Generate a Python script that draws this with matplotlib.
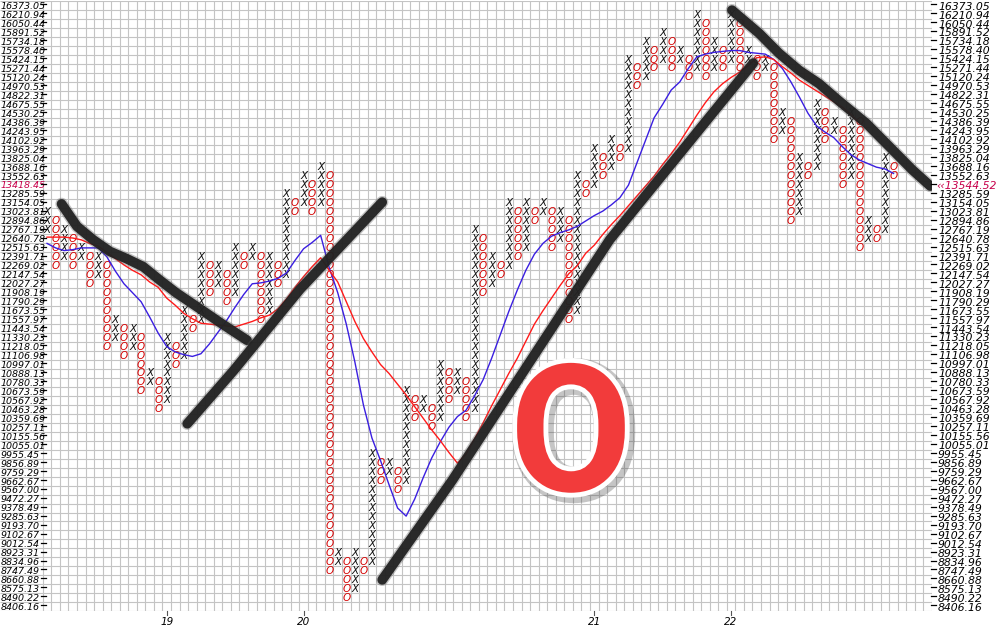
import numpy as np
import matplotlib
matplotlib.use("Agg")
import matplotlib.pyplot as plt
import matplotlib.patheffects as pe

# price level of each box row, bottom to top
box_labels = ["8406.16", "8490.22", "8575.13", "8660.88", "8747.49", "8834.96", "8923.31", "9012.54",
              "9102.67", "9193.70", "9285.63", "9378.49", "9472.27", "9567.00", "9662.67", "9759.29",
              "9856.89", "9955.45", "10055.01", "10155.56", "10257.11", "10359.69", "10463.28", "10567.92",
              "10673.59", "10780.33", "10888.13", "10997.01", "11106.98", "11218.05", "11330.23", "11443.54",
              "11557.97", "11673.55", "11790.29", "11908.19", "12027.27", "12147.54", "12269.02", "12391.71",
              "12515.63", "12640.78", "12767.19", "12894.86", "13023.81", "13154.05", "13285.59", "13418.45",
              "13552.63", "13688.16", "13825.04", "13963.29", "14102.92", "14243.95", "14386.39", "14530.25",
              "14675.55", "14822.31", "14970.53", "15120.24", "15271.44", "15424.15", "15578.40", "15734.18",
              "15891.52", "16050.44", "16210.94", "16373.05"]
last_price = "13544.52"
last_box = 47

# point & figure columns (box index of lowest / highest mark), X and O alternate
first_col = 5
col_low = [42, 38, 39, 38, 39, 36, 37, 29, 30, 28,
           29, 24, 25, 22, 23, 27, 28, 31, 32, 35,
           36, 34, 35, 38, 39, 32, 33, 36, 37, 44,
           45, 44, 45, 4, 5, 1, 2, 4, 5, 14,
           15, 13, 14, 21, 22, 20, 21, 23, 24, 21,
           22, 35, 36, 37, 38, 39, 40, 43, 44, 40,
           41, 32, 33, 46, 47, 48, 49, 50, 51, 58,
           59, 60, 61, 60, 61, 59, 60, 59, 60, 60,
           61, 60, 61, 59, 60, 52, 53, 43, 44, 48,
           49, 52, 53, 47, 48, 40, 41, 41, 42, 48]
col_high = [44, 43, 42, 41, 40, 39, 39, 38, 32, 31,
            31, 30, 26, 25, 30, 29, 33, 32, 39, 38,
            38, 37, 40, 39, 40, 39, 39, 38, 46, 45,
            48, 47, 49, 48, 6, 5, 6, 5, 17, 16,
            16, 15, 24, 23, 23, 22, 27, 26, 26, 25,
            42, 41, 39, 38, 45, 44, 45, 44, 45, 44,
            44, 43, 48, 47, 51, 50, 52, 51, 61, 60,
            63, 62, 64, 63, 62, 61, 66, 65, 63, 62,
            66, 65, 62, 61, 61, 60, 55, 54, 50, 49,
            56, 55, 54, 53, 55, 54, 43, 42, 50, 49]

# moving averages, one value per column (in box rows)
blue_start = 5
blue_ma = [40.5, 40.0, 39.7, 39.8, 40.0, 40.0, 40.0, 39.0, 37.4, 36.0,
           35.0, 34.0, 32.3, 30.5, 29.0, 28.4, 28.1, 27.9, 28.2, 29.3,
           30.6, 31.9, 33.4, 34.8, 36.0, 36.1, 36.3, 36.6, 37.2, 38.6,
           39.9, 40.6, 41.4, 37.8, 35.0, 31.5, 27.3, 22.5, 18.8, 16.3,
           13.6, 11.0, 10.1, 12.0, 14.4, 16.6, 18.4, 20.0, 21.2, 21.9,
           23.5, 25.3, 27.7, 30.3, 32.9, 35.3, 37.5, 39.3, 40.5, 41.3,
           41.7, 42.0, 42.4, 43.0, 43.6, 44.1, 44.8, 45.6, 47.0, 49.5,
           52.0, 54.5, 56.0, 57.6, 58.5, 60.0, 61.3, 61.6, 61.8, 61.9,
           62.0, 62.0, 61.8, 61.7, 61.6, 61.0, 60.0, 58.5, 56.8, 55.0,
           53.6, 52.9, 52.3, 51.3, 50.4, 49.8, 49.4, 49.0, 48.8, 48.3]
red_start = 5
red_ma = [41.2, 41.2, 41.2, 41.1, 40.9, 40.5, 40.2, 39.5, 38.8, 38.1,
          37.5, 37.0, 36.2, 35.6, 34.4, 33.6, 32.7, 32.1, 31.6, 31.5,
          31.4, 31.3, 31.2, 31.5, 31.8, 32.2, 32.5, 33.2, 34.3, 35.6,
          36.8, 37.9, 38.9, 37.5, 36.2, 34.0, 31.8, 29.9, 28.4, 27.0,
          26.0, 24.8, 23.6, 22.3, 21.0, 19.7, 18.5, 17.2, 16.0, 17.0,
          18.7, 20.5, 22.4, 24.2, 26.0, 27.7, 29.6, 31.5, 33.0, 34.4,
          35.8, 37.1, 38.0, 39.4, 40.3, 41.5, 42.6, 43.6, 44.7, 45.8,
          46.9, 48.0, 49.3, 50.5, 51.8, 53.3, 54.8, 56.2, 57.4, 58.3,
          59.0, 59.6, 60.3, 61.2, 61.3, 61.0, 60.2, 59.5, 58.7, 58.1,
          57.5, 56.9, 56.3, 55.7, 54.9, 53.9]

# hand drawn trend lines (column, box row)
trend_lines = [
    ([6.7, 8.5, 10.4, 12.35, 14.3, 16.25, 18.2, 20.1, 22.9, 25.2, 28.4],
     [44.9, 42.4, 40.9, 39.6, 38.8, 37.9, 36.4, 35.0, 33.2, 31.7, 29.7]),
    ([21.4, 26.8, 34.6, 44.2], [20.4, 26.3, 35.4, 45.1]),
    ([44.2, 52.4, 70.8, 87.6], [3.0, 14.1, 40.9, 60.6]),
    ([85.1, 88.3, 90.6, 92.95, 95.3, 97.6, 100.8, 103.5, 106.2, 108.3],
     [66.5, 63.9, 61.7, 59.8, 58.3, 56.4, 53.9, 51.3, 48.7, 46.9]),
]

years = ["19", "20", "21", "22"]
year_cols = [19, 35, 69, 85]

n_cols = 109
n_rows = len(box_labels)
label_font = ['Liberation Sans Narrow', 'DejaVu Sans']
lab_size = 6.8      # left scale
rlab_size = 7.8     # right scale

fig = plt.figure(figsize=(10, 6.39), dpi=100)
fig.patch.set_facecolor('white')
ax = fig.add_axes([0, 27.8 / 639, 0.932, 610 / 639])
ax.set_xlim(-0.5, n_cols - 0.5)
ax.set_ylim(-0.5, n_rows - 0.5)
ax.axis('off')

# grid
grid_c = '#c4c4c4'
ax.hlines(np.arange(n_rows + 1) - 0.5, -0.5, n_cols - 0.5, color=grid_c, lw=0.8, zorder=1)
ax.vlines(np.arange(first_col, n_cols + 1) - 0.5, -0.5, n_rows - 0.5, color=grid_c, lw=0.8, zorder=1)

# X / O marks
for k in range(len(col_low)):
    c = first_col + k
    kind = 'X' if k % 2 == 0 else 'O'
    color = '#111111' if kind == 'X' else '#d40000'
    for b in range(col_low[k], col_high[k] + 1):
        ax.text(c, b, kind, ha='center', va='center', fontsize=7.5, color=color,
                style='italic', family=label_font, zorder=3)

# moving averages
ax.plot(np.arange(len(blue_ma)) + blue_start, blue_ma, color='#3a1ee0', lw=1.0, zorder=4)
ax.plot(np.arange(len(red_ma)) + red_start, red_ma, color='#ff1a1a', lw=1.0, zorder=4)

# trend lines
for xs, ys in trend_lines:
    ax.plot(xs, ys, color='#222222', lw=7, solid_capstyle='round', zorder=5, alpha=0.95,
            path_effects=[pe.Stroke(linewidth=9, foreground='#555555', alpha=0.35), pe.Normal()])

# price labels left and right
for i, lab in enumerate(box_labels):
    c = '#c8004b' if i == last_box else 'black'
    ax.text(-0.42, i - 0.1, lab, ha='left', va='center', fontsize=lab_size, style='italic',
            family=label_font, color=c, zorder=6)
    ax.plot([4.25, 4.9], [i + 0.15, i + 0.15], color='black', lw=0.9, zorder=6)
    ax.plot([108.35, 108.95], [i + 0.15, i + 0.15], color='black', lw=0.9, zorder=6, clip_on=False)
    if i == last_box:
        ax.text(108.95, i - 0.1, '\u2039\u2039' + last_price, ha='left', va='center', fontsize=rlab_size,
                style='italic', family=label_font, color='#c8004b', clip_on=False, zorder=6)
    else:
        ax.text(109.2, i - 0.1, lab, ha='left', va='center', fontsize=rlab_size, style='italic',
                family=label_font, color='black', clip_on=False, zorder=6)

# year axis
for yr, c in zip(years, year_cols):
    ax.plot([c, c], [-0.5, -0.95], color='#555555', lw=0.8, clip_on=False)
    ax.text(c, -1.75, yr, ha='center', va='center', fontsize=7.5, style='italic',
            family=label_font, clip_on=False)

# big signal letter
fig.text(0.571, 1 - 442 / 639, 'O', ha='center', va='center', fontsize=128, fontweight='bold',
         family=['Roboto', 'DejaVu Sans'], color='#f23b3b', zorder=10,
         path_effects=[pe.Stroke(offset=(2, -2), linewidth=11, foreground='#404040', alpha=0.3),
                       pe.Stroke(linewidth=7, foreground='white'), pe.Normal()])

fig.savefig('out.png', dpi=100, facecolor='white')
